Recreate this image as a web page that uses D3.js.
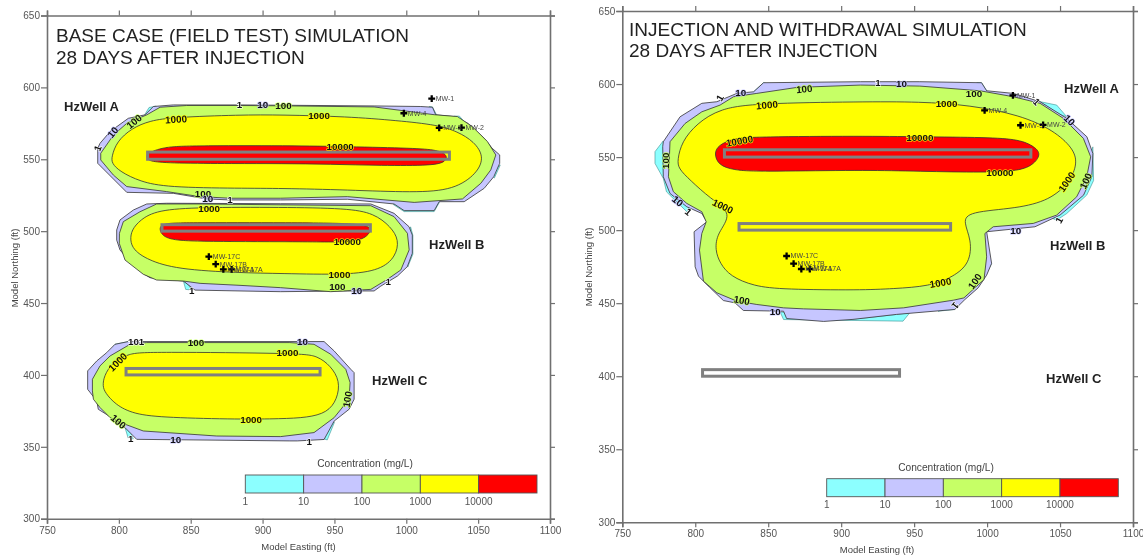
<!DOCTYPE html>
<html>
<head>
<meta charset="utf-8">
<script src="https://cdn.jsdelivr.net/npm/d3@7"></script>
<style>
body { margin: 0; background: #fff; }
text { font-family: "Liberation Sans", Arial, sans-serif; }
svg { filter: blur(0.35px); }
</style>
</head>
<body>
<svg id="chart" width="1143" height="556"></svg>
<script>
// legend classes and colours
var levels = ["1", "10", "100", "1000", "10000"];
var levelColors = ["#8cffff", "#c6c6ff", "#c6ff66", "#ffff00", "#ff0000"];
var haloColors = ["#ffffff", "#c6c6ff", "#c6ff66", "#ffff00", "#ffff00"];
var xTicks = [750, 800, 850, 900, 950, 1000, 1050, 1100];
var yTicks = [300, 350, 400, 450, 500, 550, 600, 650];

// wells, in model feet [x0, x1, y0, y1]
var wells = [[820, 1030, 550, 555], [830, 975, 500, 504.5], [805, 940, 400, 404.5]];
var monitorWells = [
	[1017.7, 592.2, "MW-1"], [998.3, 582, "MW-4"], [1022.9, 571.8, "MW-3"], [1038.4, 572, "MW-2"],
	[862.6, 482.3, "MW-17C"], [867.4, 477.1, "MW-17B"], [872.7, 473.4, "MW-17A"], [878.5, 473.4, "MW-17A"]
];

// ---- base case contours ----
var baseCyan = [
	[[818, 581], [821, 586], [826, 587], [824, 583]],
	[[1016, 586.7], [1018.2, 586.4], [1021, 581], [1016, 581]],
	[[1033, 580], [1037, 580], [1040.5, 576], [1036, 577]],
	[[1065.4, 546], [1061.3, 537], [1058, 540]],
	[[991, 518.5], [998.5, 513.6], [1019.4, 513.6], [1023, 520], [1005, 518]],
	[[844.9, 465.3], [846.5, 459.5], [851, 459], [848, 463]],
	[[797.3, 421.3], [794, 415.8], [800, 418], [806.6, 423.2]],
	[[804.3, 363.3], [806.5, 356], [810, 355.5], [808, 361]],
	[[1003, 503], [1004.6, 497], [1004.6, 484], [1001, 475], [1000, 485]],
	[[942.8, 355.5], [945, 354.8], [950, 367], [947, 367]]
];
var baseA10 = [[785.3, 557.7], [786.9, 561.1], [793.9, 569.3], [806.6, 578.5], [818.2, 580.9], [824, 586.7], [837.9, 587.8], [884.3, 587.8], [912.6, 587.6], [977.6, 587.1], [1010.1, 586.7], [1018.2, 586.2], [1020.5, 580.9], [1033.2, 579.7], [1042.6, 575.1], [1054.2, 564.6], [1059.7, 557.7], [1065, 553], [1065, 547.2], [1060.9, 537.9], [1054.2, 529.8], [1040.3, 520.5], [1022.9, 520.5], [1019.4, 514.3], [998.5, 514.3], [991.5, 518.9], [959, 522.2], [912.6, 521.7], [877.4, 521.7], [861.1, 522.4], [838, 526.3], [805.5, 527], [785.3, 547.2]];
var baseA100 = [[787.4, 554.2], [796.3, 566.9], [805.5, 575], [819.4, 580.9], [828.7, 586.2], [847.2, 587.4], [884.3, 587.4], [912.6, 587.2], [977.6, 586.4], [1019.4, 581], [1035.6, 579.7], [1046, 572.7], [1056.5, 562.3], [1062.3, 553], [1058.8, 542.6], [1051.9, 533.3], [1039.1, 522.4], [1005.5, 520], [959, 524], [912.6, 522.9], [877.4, 522.9], [856.5, 524], [833.3, 527.5], [805.5, 531], [796.2, 539], [787.4, 549.5]];
var baseA1000 = [[795, 551.9], [798.5, 562.3], [808.9, 571.6], [821.7, 576.9], [837.9, 579.2], [884.3, 580.9], [912.6, 580.9], [959, 579.7], [993.9, 576.9], [1021.7, 573.9], [1035.6, 569.3], [1047.2, 562.3], [1054.2, 551.9], [1049.5, 540.3], [1033.3, 528.7], [1005.5, 526.8], [959, 528.7], [912.6, 529.8], [884.3, 529.8], [833.3, 530.5], [814.7, 534.5], [800.8, 541.4], [795, 547.2]];
var baseA10000 = [[819.4, 554.2], [830.9, 558.4], [847.2, 559.5], [919, 559.5], [959, 558.8], [1005.5, 557.7], [1021.7, 556.5], [1028.7, 553], [1027.5, 548.4], [1019.4, 545.6], [982.2, 545.6], [947.4, 546.6], [912.6, 547], [879.7, 547], [837.9, 547.2], [821.7, 548.4], [819.4, 550.7]];

var baseB10 = [[798.5, 500.8], [800.8, 507.8], [810.1, 514.7], [819.4, 518.9], [833.3, 519.4], [912.6, 519.1], [975.3, 518.9], [991.5, 512.4], [1001.9, 503.1], [1004.2, 497.3], [1004.2, 484.6], [1000.7, 475.3], [993.9, 468.8], [982.3, 461.8], [977.6, 458.4], [959, 458.4], [912.6, 457.9], [884.3, 458.4], [853, 459], [844.9, 465.3], [821.7, 467.6], [817, 470.6], [808.9, 477.6], [800.8, 486.9], [798.5, 493.8]];
var baseB100 = [[800.4, 498.5], [803.1, 506.6], [814.7, 513.5], [826.3, 518.9], [856.5, 518.9], [975.3, 517.7], [991.5, 510.1], [1000.8, 498.5], [1002, 487], [996.2, 473], [986.9, 466.5], [975.3, 459.5], [947.4, 457.9], [912.6, 460.7], [884.3, 462.3], [856.5, 463.7], [844.9, 465.3], [826.3, 466], [817, 470], [804.3, 479.9], [800.3, 491.5]];
var baseB1000 = [[807.8, 493.9], [808.9, 500.8], [814.7, 507.8], [826.3, 514.7], [856.5, 516.6], [912.6, 516.6], [959, 515.9], [977.6, 512.4], [989.2, 503.1], [995, 493.9], [992.7, 482.3], [982.3, 473], [959, 469.5], [912.6, 470.6], [884, 471], [840, 473.5], [820, 480], [810, 487]];
var baseB10000 = [[828.2, 499.7], [828.7, 505.5], [844.9, 505.9], [919, 505.9], [975.3, 505.5], [975.8, 499.7], [968.3, 492], [935.8, 492.7], [856.5, 492.7], [833.3, 493.9]];

var baseC10 = [[778.3, 390], [778.3, 402.8], [784.6, 409.7], [791.5, 415.5], [797.3, 421.3], [806.6, 423.2], [919.1, 423.2], [942.8, 423.2], [949.8, 416.7], [961.4, 403.9], [963.7, 401.6], [963.7, 383.1], [960.2, 376.1], [949.8, 367.9], [942.8, 355.1], [924.2, 354.1], [919, 354.1], [812.4, 355.2], [804.3, 363.3], [795, 370.3], [785.7, 376.1], [784.6, 381.9]];
var baseC100 = [[781.6, 388.9], [781.6, 397], [786.9, 406.3], [793.9, 413.2], [807.8, 421.3], [819.4, 422.5], [919, 422.5], [935.8, 421.3], [947.4, 414.4], [957.9, 403.9], [960.9, 394.7], [960.2, 383.1], [949.8, 370.3], [935.8, 359.9], [912.6, 357.1], [868.1, 357.5], [817, 361], [804.3, 365.7], [793.9, 370.3], [786.9, 377.3], [782.3, 383.1]];
var baseC1000 = [[788.7, 392.3], [789.7, 399.3], [795, 408.1], [806.6, 415.1], [821.7, 416], [926.6, 415.1], [938.2, 413.2], [947.4, 406.3], [953.9, 395.8], [952, 383.1], [945.1, 373.8], [931.2, 370.3], [912.6, 369.5], [884.3, 369.1], [833.3, 370.3], [810.1, 372.6], [797.3, 379.6], [790.4, 387.7]];

var baseLabels = [
	[785.3, 557.7, "1", -70], [795.7, 568.8, "10", -50], [810.6, 576.2, "100", -40], [839.8, 577.8, "1000", -3],
	[883.9, 587.8, "1", 0], [900.1, 587.8, "10", 0], [914.5, 587.1, "100", 0], [939.3, 580.2, "1000", 0],
	[954, 558.8, "10000", 0], [858.5, 526.3, "100", 0], [861.9, 522.4, "10", 0], [877.4, 521.7, "1", 0],
	[862.8, 515.9, "1000", 0], [959, 492.5, "10000", 0], [953.5, 470, "1000", 0], [952, 461.4, "100", 0],
	[965.5, 458.6, "10", 0], [987.4, 465.3, "1", 0], [850.7, 458.8, "1", 0],
	[812, 423.4, "101", 0], [853.7, 422.5, "100", 0], [799.2, 409, "1000", -45], [917.3, 415.5, "1000", 0],
	[927.7, 423.1, "10", 0], [959, 383, "100", -80], [932.4, 354, "1", 0], [892, 369.1, "1000", 0],
	[799.7, 367.5, "100", 40], [808.2, 355.7, "1", 0], [839.6, 355, "10", 0]
];

// ---- injection and withdrawal contours ----
var injCyan = [
	[[778, 561], [772.4, 553.7], [772.4, 545.7], [778.1, 535.4], [780.3, 526.2], [794.2, 512.6], [797, 516], [784, 530], [781, 550]],
	[[840, 594.7], [846.8, 600.9], [850, 600], [845, 594]],
	[[993, 600.9], [996.2, 600.9], [999.7, 595.4], [994, 595]],
	[[1036, 588], [1047.7, 585.6], [1054.6, 577.6], [1050, 579]],
	[[1072.5, 557], [1073, 534], [1068.3, 524], [1054.6, 511.4], [1047.7, 506.8], [1045, 508], [1060, 522], [1068, 537], [1071, 552]],
	[[1003.1, 477.2], [997.9, 466.9], [994, 465], [999, 478]],
	[[858.2, 443.9], [860.5, 438.8], [942.4, 437.7], [947, 443.4], [937.9, 442.3], [908, 439], [870, 443]],
	[[977.9, 445.7], [966.4, 444.5], [975, 448]]
];
var injA10 = [[777.7, 557.1], [778.1, 560.5], [789.6, 577.6], [804.5, 586.8], [814.8, 587.9], [828.5, 593.6], [840, 594.7], [846.8, 600.9], [913.2, 601.6], [953.9, 601.6], [996.2, 600.9], [999.7, 595.4], [1018, 593.6], [1036.3, 587.9], [1054.6, 576.5], [1068.4, 563.9], [1072.5, 552.5], [1071.8, 536.5], [1066.1, 523.9], [1050, 510.3], [1032.8, 502.3], [999.7, 498.9], [1003.1, 477.2], [999.7, 469.2], [993.9, 460.5], [984.8, 452.5], [977.9, 445.7], [937.9, 442.3], [908.1, 438.9], [888, 437.5], [862.6, 439.5], [860.5, 444.5], [833, 445], [827.3, 450.2], [819.3, 451.8], [810.2, 460.5], [802.2, 468.5], [799.9, 474.9], [799.2, 498.9], [807.9, 505.7], [804.5, 511.4], [794.2, 516], [782.7, 525.1], [778.1, 536.5]];
var injA100 = [[782.3, 550.2], [782.7, 560.5], [793, 573], [804.5, 581], [817, 585.6], [826.2, 591.3], [842.2, 593.6], [869.7, 597.7], [913.2, 599.3], [953.9, 598.6], [995.1, 595.4], [1018, 591.3], [1036.3, 586.8], [1052.3, 576.5], [1066, 562.8], [1071, 550.2], [1068.3, 536.5], [1061.4, 522.8], [1047.7, 510.3], [1031.7, 504.6], [1004.2, 502.3], [998.5, 497.7], [999.7, 481.7], [997.9, 466.2], [984.1, 453.6], [977.2, 452.1], [942.8, 446.8], [913.2, 445], [874.3, 446.1], [860.5, 446.8], [842.2, 449.1], [828.5, 451.4], [814.8, 457.1], [805.6, 465.1], [802.9, 486.3], [804.5, 497.7], [807.5, 505.7], [804.5, 512.6], [794.2, 518.3], [785, 526.3], [781.6, 536.5]];
var injA1000 = [[787.8, 548], [790.7, 560.5], [801, 573], [817, 583.3], [842.2, 586.8], [913.2, 587.9], [953.9, 587.9], [988.2, 585.6], [1022.5, 578.8], [1045.4, 568.5], [1059.2, 555.9], [1061.9, 545.7], [1056.9, 533.1], [1043.1, 520.5], [1020.3, 514.8], [987.1, 512.6], [983.6, 505.7], [989.4, 493.2], [988.2, 477.2], [976.8, 468], [960.8, 461.6], [935.6, 459.9], [913.2, 458.9], [860.5, 459.4], [840, 461.6], [823.9, 468.5], [817, 477.2], [813.6, 486.3], [814.8, 497.7], [826.2, 511.4], [810.2, 521.7], [796.5, 534.2], [788.4, 542.2]];
var injA10000 = [[812.9, 552.5], [815.8, 558.2], [826.2, 562.8], [842.2, 563.9], [913.2, 564.4], [953.9, 563.9], [999.7, 563.5], [1022.5, 562.1], [1032.8, 557], [1037, 552], [1031.7, 544.5], [1020.3, 540], [988.2, 539.5], [942.4, 540.6], [908.1, 541.1], [842.2, 540], [826.2, 541.1], [815.8, 544.5]];

var injLabels = [
	[816.9, 590.6, "1", -60], [831.2, 594.1, "10", 0], [874.7, 596.6, "100", -5], [849.1, 585.6, "1000", -5],
	[830.3, 561, "10000", -10], [779.7, 547.5, "100", -90], [788, 519.9, "10", 40], [795.3, 512.6, "1", 40],
	[818.9, 516.4, "1000", 25], [925.3, 601.1, "1", 0], [941.3, 600.7, "10", 0], [991, 593.6, "100", 0],
	[972.2, 586.8, "1000", 0], [953.9, 563.5, "10000", 0], [1008.8, 539.5, "10000", 0], [1054.6, 533.1, "1000", -55],
	[1067.6, 533.7, "100", -65], [1034, 587.9, "1", 45], [1056.4, 575.3, "10", 45], [1049.3, 506.8, "1", -60],
	[1019.6, 499.5, "10", 0], [968, 464, "1000", -10], [991.6, 465, "100", -55], [978.4, 448.4, "1", 130],
	[831.9, 452, "100", 10], [854.8, 444.1, "10", 0]
];

var svg = d3.select("#chart");

var smooth = d3.line().curve(d3.curveBasisClosed);
var jagged = d3.line().curve(d3.curveLinearClosed);

function drawPanel(p) {
	var x = d3.scaleLinear().domain([750, 1100]).range(p.xRange);
	var y = d3.scaleLinear().domain([300, 650]).range(p.yRange);
	var g = svg.append("g");
	var toPx = function (pts) { return pts.map(function (d) { return [x(d[0]), y(d[1])]; }); };

	// filled contours, outer first
	p.cyan.forEach(function (pts) {
		g.append("path").attr("d", jagged(toPx(pts))).attr("fill", levelColors[0])
			.attr("stroke", "#3f8f8f").attr("stroke-width", 0.6);
	});
	p.layers.forEach(function (l) {
		g.append("path")
			.attr("d", (l[0] >= 3 ? smooth : jagged)(toPx(l[1])))
			.attr("fill", levelColors[l[0]])
			.attr("stroke", "#333").attr("stroke-width", 0.8);
	});

	// horizontal wells
	g.selectAll("rect.well").data(wells).enter().append("rect")
		.attr("class", "well")
		.attr("x", function (d) { return x(d[0]); })
		.attr("y", function (d) { return y(d[3]); })
		.attr("width", function (d) { return x(d[1]) - x(d[0]); })
		.attr("height", function (d) { return y(d[2]) - y(d[3]); })
		.attr("fill", "none").attr("stroke", "#808080").attr("stroke-width", 3);

	// contour labels, the halo makes the gap in the contour line
	g.selectAll("text.lab").data(p.labels).enter().append("text")
		.attr("class", "lab")
		.attr("transform", function (d) { return "translate(" + x(d[0]) + "," + y(d[1]) + ") rotate(" + d[3] + ")"; })
		.attr("text-anchor", "middle").attr("dy", "0.36em")
		.attr("font-size", 9.8).attr("font-weight", "bold").attr("fill", "#111")
		.attr("stroke", function (d) { return haloColors[Math.max(levels.indexOf(d[2]), 0)]; })
		.attr("stroke-width", 1.2).attr("paint-order", "stroke")
		.text(function (d) { return d[2]; });

	// monitoring wells
	g.selectAll("path.mw").data(monitorWells).enter().append("path")
		.attr("class", "mw")
		.attr("transform", function (d) { return "translate(" + x(d[0]) + "," + y(d[1]) + ")"; })
		.attr("d", d3.symbol(d3.symbolCross).size(26))
		.attr("fill", "#000");
	g.selectAll("text.mwl").data(monitorWells).enter().append("text")
		.attr("class", "mwl")
		.attr("x", function (d) { return x(d[0]) + 4; })
		.attr("y", function (d) { return y(d[1]) + 2.5; })
		.attr("font-size", 7).attr("fill", "#444")
		.text(function (d) { return d[2]; });

	// axes on all four sides
	var axisStyle = function (sel) {
		sel.selectAll("path,line").attr("stroke", "#707070").attr("stroke-width", 1.2);
		sel.select("path").attr("stroke-width", 1.6);
		sel.selectAll("text").attr("fill", "#555").attr("font-size", 10);
	};
	g.append("g").attr("transform", "translate(0," + p.yRange[0] + ")")
		.call(d3.axisBottom(x).tickValues(xTicks).tickSizeOuter(0).tickSize(5).tickPadding(3).tickFormat(d3.format("d"))).call(axisStyle);
	g.append("g").attr("transform", "translate(0," + p.yRange[1] + ")")
		.call(d3.axisTop(x).tickValues(xTicks).tickSizeOuter(0).tickSize(5).tickFormat("")).call(axisStyle);
	g.append("g").attr("transform", "translate(" + p.xRange[0] + ",0)")
		.call(d3.axisLeft(y).tickValues(yTicks).tickSizeOuter(0).tickSize(6).tickPadding(1).tickFormat(d3.format("d"))).call(axisStyle);
	g.append("g").attr("transform", "translate(" + p.xRange[1] + ",0)")
		.call(d3.axisRight(y).tickValues(yTicks).tickSizeOuter(0).tickSize(5).tickFormat("")).call(axisStyle);

	g.append("text").attr("x", p.xTitle[0]).attr("y", p.xTitle[1]).attr("text-anchor", "middle")
		.attr("font-size", 9.5).attr("fill", "#444").text("Model Easting (ft)");
	g.append("text").attr("transform", "translate(" + p.yTitle[0] + "," + p.yTitle[1] + ") rotate(-90)")
		.attr("text-anchor", "middle").attr("font-size", 9.5).attr("fill", "#444").text("Model Northing (ft)");

	// titles and well names
	p.title.forEach(function (t, i) {
		g.append("text").attr("x", p.titleX).attr("y", p.titleY[i])
			.attr("font-size", 19).attr("fill", "#222").text(t);
	});
	p.names.forEach(function (n) {
		g.append("text").attr("x", n[0]).attr("y", n[1])
			.attr("font-size", 13).attr("font-weight", "bold").attr("fill", "#222").text(n[2]);
	});

	// legend
	var lx = d3.scaleBand().domain(levels).range(p.legend.x);
	g.selectAll("rect.leg").data(levels).enter().append("rect")
		.attr("class", "leg")
		.attr("x", function (d) { return lx(d); })
		.attr("y", p.legend.y).attr("width", lx.bandwidth()).attr("height", 18)
		.attr("fill", function (d, i) { return levelColors[i]; })
		.attr("stroke", "#555").attr("stroke-width", 0.9);
	g.selectAll("text.legl").data(levels).enter().append("text")
		.attr("class", "legl")
		.attr("x", function (d) { return lx(d); })
		.attr("y", p.legend.y + 29.5).attr("text-anchor", "middle")
		.attr("font-size", 10).attr("fill", "#555")
		.text(function (d) { return d; });
	g.append("text").attr("x", p.legend.titleX).attr("y", p.legend.y - 8)
		.attr("text-anchor", "middle").attr("font-size", 10.2).attr("fill", "#444").text("Concentration (mg/L)");
}

drawPanel({
	xRange: [47, 550], yRange: [518.7, 15.5],
	cyan: baseCyan,
	layers: [[1, baseA10], [2, baseA100], [3, baseA1000], [4, baseA10000],
		[1, baseB10], [2, baseB100], [3, baseB1000], [4, baseB10000],
		[1, baseC10], [2, baseC100], [3, baseC1000]],
	labels: baseLabels,
	title: ["BASE CASE (FIELD TEST) SIMULATION", "28 DAYS AFTER INJECTION"], titleX: 56, titleY: [42, 64],
	names: [[64, 111, "HzWell A"], [429, 249, "HzWell B"], [372, 385, "HzWell C"]],
	legend: { x: [245.3, 537], y: 475, titleX: 365 },
	xTitle: [298.5, 550], yTitle: [18, 268]
});

drawPanel({
	xRange: [622.3, 1133], yRange: [522.3, 11],
	cyan: injCyan,
	layers: [[1, injA10], [2, injA100], [3, injA1000], [4, injA10000]],
	labels: injLabels,
	title: ["INJECTION AND WITHDRAWAL SIMULATION", "28 DAYS AFTER INJECTION"], titleX: 629, titleY: [36, 57],
	names: [[1064, 93, "HzWell A"], [1050, 250, "HzWell B"], [1046, 383, "HzWell C"]],
	legend: { x: [826.7, 1118.3], y: 478.7, titleX: 946 },
	xTitle: [877, 553], yTitle: [592, 267]
});
</script>
</body>
</html>
